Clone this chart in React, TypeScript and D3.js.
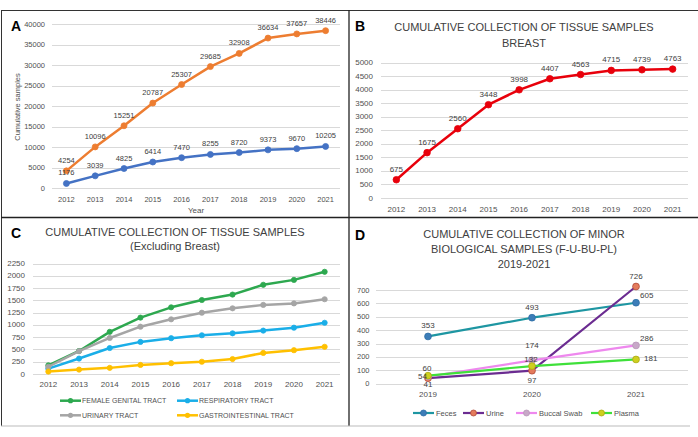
import React from 'react';
import * as d3 from 'd3';

// ---------- DATA ----------
const years = ['2012', '2013', '2014', '2015', '2016', '2017', '2018', '2019', '2020', '2021'];

// Panel A
const cumulativeAll = [4254, 10096, 15251, 20787, 25307, 29685, 32908, 36634, 37657, 38446];
const cumulativeTissue = [1176, 3039, 4825, 6414, 7470, 8255, 8720, 9373, 9670, 10205];
const ticksA = [0, 5000, 10000, 15000, 20000, 25000, 30000, 35000, 40000];

// Panel B
const breast = [675, 1675, 2560, 3448, 3998, 4407, 4563, 4715, 4739, 4763];
const ticksB = [0, 500, 1000, 1500, 2000, 2500, 3000, 3500, 4000, 4500, 5000];

// Panel C
const femaleGenital = [177, 470, 860, 1150, 1360, 1510, 1620, 1820, 1920, 2085];
const respiratory = [110, 315, 530, 655, 730, 790, 830, 885, 945, 1045];
const urinary = [148, 465, 735, 965, 1115, 1250, 1340, 1410, 1440, 1525];
const gastro = [50, 90, 125, 185, 220, 250, 305, 430, 485, 555];
const ticksC = [0, 250, 500, 750, 1000, 1250, 1500, 1750, 2000, 2250];
const seriesNamesC = ['FEMALE GENITAL TRACT', 'RESPIRATORY TRACT', 'URINARY TRACT', 'GASTROINTESTINAL TRACT'];

// Panel D
const minorYears = ['2019', '2020', '2021'];
const feces = [353, 493, 605];
const urine = [41, 97, 726];
const buccal = [54, 174, 286];
const plasma = [60, 132, 181];
const ticksD = [0, 100, 200, 300, 400, 500, 600, 700];
const seriesNamesD = ['Feces', 'Urine', 'Buccal Swab', 'Plasma'];

// ---------- STYLE ----------
const FONT = '"Liberation Sans", Arial, sans-serif';
const GRID = '#D9D9D9';
const TICK = '#505050';
const LABEL = '#404040';

type Place = 'above' | 'aboveHigh' | 'below' | 'right' | 'left' | 'aboveRight' | 'aboveSmall' | 'belowSmall';
const offsets: Record<Place, [number, number, 'start' | 'middle' | 'end']> = {
  above: [0, -10.5, 'middle'],
  aboveHigh: [0, -14.5, 'middle'],
  aboveSmall: [-1, -7, 'middle'],
  below: [0, 10, 'middle'],
  belowSmall: [0, 6, 'middle'],
  right: [8, -1, 'start'],
  left: [-1, 0.5, 'end'],
  aboveRight: [4, -7, 'start'],
};

interface SeriesCfg {
  values: number[];
  line: string;
  marker: string;
  markerStroke?: string;
  width: number;
  r: number;
  labels?: Place[];
  labelSize?: number;
}

interface PanelCfg {
  categories: string[];
  series: SeriesCfg[];
  x0: number;
  x1: number;
  yZero: number;
  yTopPx: number;
  yMax: number;
  ticks: number[];
  tickRight: number;
  tickSize: number;
  xLabelY: number;
  xLabelSize: number;
}

function renderPanel(cfg: PanelCfg, key: string) {
  const x = d3.scalePoint<string>().domain(cfg.categories).range([cfg.x0, cfg.x1]).padding(0.5);
  const y = d3.scaleLinear().domain([0, cfg.yMax]).range([cfg.yZero, cfg.yTopPx]);
  const line = d3
    .line<number>()
    .x((_, i) => x(cfg.categories[i]) as number)
    .y((v) => y(v));
  return (
    <g key={key}>
      {cfg.ticks.map((t) => (
        <g key={t}>
          <line x1={cfg.x0} x2={cfg.x1} y1={Math.round(y(t)) + 0.5} y2={Math.round(y(t)) + 0.5} stroke={GRID} strokeWidth={1} />
          <text x={cfg.tickRight} y={y(t)} dominantBaseline="central" textAnchor="end" fontSize={cfg.tickSize} fill={TICK}>
            {t}
          </text>
        </g>
      ))}
      {cfg.categories.map((c) => (
        <text key={c} x={x(c)} y={cfg.xLabelY} dominantBaseline="central" textAnchor="middle" fontSize={cfg.xLabelSize} fill={TICK}>
          {c}
        </text>
      ))}
      {cfg.series.map((s, si) => (
        <g key={si}>
          <path d={line(s.values) as string} fill="none" stroke={s.line} strokeWidth={s.width} strokeLinejoin="round" strokeLinecap="round" />
          {s.values.map((v, i) => (
            <circle key={i} cx={x(cfg.categories[i])} cy={y(v)} r={s.r} fill={s.marker} stroke={s.markerStroke || s.marker} strokeWidth={0.8} />
          ))}
        </g>
      ))}
      {cfg.series.map((s, si) =>
        s.labels
          ? s.values.map((v, i) => {
              const [dx, dy, anchor] = offsets[s.labels![i]];
              return (
                <text
                  key={`${si}-${i}`}
                  x={(x(cfg.categories[i]) as number) + dx}
                  y={y(v) + dy}
                  dominantBaseline="central"
                  textAnchor={anchor}
                  fontSize={s.labelSize || 8}
                  fill={LABEL}
                >
                  {v}
                </text>
              );
            })
          : null
      )}
    </g>
  );
}

const allAbove: Place[] = years.map(() => 'above');

export default function App() {
  const panelA = renderPanel(
    {
      categories: years,
      series: [
        { values: cumulativeAll, line: '#ED7D31', marker: '#ED7D31', width: 2.5, r: 3, labels: allAbove, labelSize: 7.5 },
        { values: cumulativeTissue, line: '#4472C4', marker: '#4472C4', width: 2.5, r: 3, labels: allAbove, labelSize: 7.5 },
      ],
      x0: 52,
      x1: 340,
      yZero: 188.3,
      yTopPx: 24.3,
      yMax: 40000,
      ticks: ticksA,
      tickRight: 45,
      tickSize: 7.5,
      xLabelY: 199,
      xLabelSize: 7.5,
    },
    'A'
  );
  const panelB = renderPanel(
    {
      categories: years,
      series: [{ values: breast, line: '#E8000B', marker: '#E8000B', width: 2.5, r: 3.3, labels: allAbove, labelSize: 8 }],
      x0: 381,
      x1: 688,
      yZero: 198,
      yTopPx: 62.7,
      yMax: 5000,
      ticks: ticksB,
      tickRight: 373,
      tickSize: 8,
      xLabelY: 209,
      xLabelSize: 8,
    },
    'B'
  );
  const colorsC = ['#2DA84F', '#1AAEE8', '#A5A5A5', '#FFC000'];
  const panelC = renderPanel(
    {
      categories: years,
      series: [femaleGenital, respiratory, urinary, gastro].map((v, i) => ({
        values: v,
        line: colorsC[i],
        marker: colorsC[i],
        width: 2.5,
        r: 2.6,
      })),
      x0: 33,
      x1: 340,
      yZero: 374,
      yTopPx: 263.7,
      yMax: 2250,
      ticks: ticksC,
      tickRight: 25,
      tickSize: 8,
      xLabelY: 384.7,
      xLabelSize: 8,
    },
    'C'
  );
  const linesD = ['#1E96A2', '#6B2C91', '#EE88EE', '#3FE03A'];
  const markersD = ['#3C7DB8', '#E47B5C', '#C8A8C8', '#CFCF1E'];
  const strokesD = ['#2F6EA6', '#B04A3A', '#B898B8', '#A9A910'];
  const labelsD: Place[][] = [
    ['above', 'above', 'aboveRight'],
    ['belowSmall', 'below', 'above'],
    ['left', 'aboveHigh', 'aboveRight'],
    ['aboveSmall', 'aboveSmall', 'right'],
  ];
  const panelD = renderPanel(
    {
      categories: minorYears,
      series: [feces, urine, buccal, plasma].map((v, i) => ({
        values: v,
        line: linesD[i],
        marker: markersD[i],
        markerStroke: strokesD[i],
        width: 2.2,
        r: 3.4,
        labels: labelsD[i],
        labelSize: 8,
      })),
      x0: 376,
      x1: 688,
      yZero: 383.7,
      yTopPx: 290,
      yMax: 700,
      ticks: ticksD,
      tickRight: 369.5,
      tickSize: 7.5,
      xLabelY: 394.7,
      xLabelSize: 8,
    },
    'D'
  );

  const legendC = seriesNamesC.map((name, i) => {
    const col = i % 2;
    const row = Math.floor(i / 2);
    const lx = col === 0 ? 60 : 177;
    const ly = row === 0 ? 400.7 : 415.3;
    return (
      <g key={name}>
        <line x1={lx} x2={lx + 21} y1={ly} y2={ly} stroke={colorsC[i]} strokeWidth={2.5} />
        <circle cx={lx + 10.5} cy={ly} r={2.6} fill={colorsC[i]} />
        <text x={lx + 22} y={ly} dominantBaseline="central" fontSize={7} fill={TICK}>
          {name}
        </text>
      </g>
    );
  });

  const legendXD = [413, 463, 516, 591];
  const legendD = seriesNamesD.map((name, i) => {
    const lx = legendXD[i];
    const ly = 413;
    return (
      <g key={name}>
        <line x1={lx} x2={lx + 21} y1={ly} y2={ly} stroke={linesD[i]} strokeWidth={2.2} />
        <circle cx={lx + 10.5} cy={ly} r={3} fill={markersD[i]} stroke={strokesD[i]} strokeWidth={0.8} />
        <text x={lx + 23} y={ly} dominantBaseline="central" fontSize={7.5} fill={TICK}>
          {name}
        </text>
      </g>
    );
  });

  const titleFill = '#404040';

  return (
    <svg
      width={698}
      height={437}
      style={{ position: 'absolute', left: 0, top: 0, display: 'block', background: '#fff' }}
      fontFamily={FONT}
    >
      <rect x={0} y={0} width={698} height={437} fill="#fff" />
      {/* frame */}
      <line x1={1} x2={698} y1={10.5} y2={10.5} stroke="#333" strokeWidth={1} />
      <line x1={1.5} x2={1.5} y1={10} y2={426} stroke="#333" strokeWidth={1} />
      <line x1={349} x2={349} y1={10} y2={426} stroke="#222" strokeWidth={1.3} />
      <line x1={1} x2={698} y1={217.5} y2={217.5} stroke="#222" strokeWidth={1.3} />
      <line x1={1} x2={690} y1={426} y2={426} stroke="#BBBBBB" strokeWidth={1} />

      {/* Panel A */}
      {panelA}
      <text x={11} y={31} fontSize={14} fontWeight="bold" fill="#000">A</text>
      <text
        transform={`translate(17,${107}) rotate(-90)`}
        textAnchor="middle"
        dominantBaseline="central"
        fontSize={7.5}
        fill={TICK}
      >
        Cumulative samples
      </text>
      <text x={196} y={210.7} textAnchor="middle" dominantBaseline="central" fontSize={8} fill={TICK}>
        Year
      </text>

      {/* Panel B */}
      {panelB}
      <text x={355} y={31} fontSize={14} fontWeight="bold" fill="#000">B</text>
      <text x={524} y={26.7} textAnchor="middle" dominantBaseline="central" fontSize={11} fill={titleFill}>
        CUMULATIVE COLLECTION OF TISSUE SAMPLES
      </text>
      <text x={524} y={42.7} textAnchor="middle" dominantBaseline="central" fontSize={11} fill={titleFill}>
        BREAST
      </text>

      {/* Panel C */}
      {panelC}
      {legendC}
      <text x={11} y={238} fontSize={14} fontWeight="bold" fill="#000">C</text>
      <text x={175} y={232.3} textAnchor="middle" dominantBaseline="central" fontSize={11} fill={titleFill}>
        CUMULATIVE COLLECTION OF TISSUE SAMPLES
      </text>
      <text x={175} y={246.3} textAnchor="middle" dominantBaseline="central" fontSize={11} fill={titleFill}>
        (Excluding Breast)
      </text>

      {/* Panel D */}
      {panelD}
      {legendD}
      <text x={355} y={240} fontSize={14} fontWeight="bold" fill="#000">D</text>
      <text x={524} y={234} textAnchor="middle" dominantBaseline="central" fontSize={11} fill={titleFill}>
        CUMULATIVE COLLECTION OF MINOR
      </text>
      <text x={524} y={249} textAnchor="middle" dominantBaseline="central" fontSize={11} fill={titleFill}>
        BIOLOGICAL SAMPLES (F-U-BU-PL)
      </text>
      <text x={524} y={264} textAnchor="middle" dominantBaseline="central" fontSize={11} fill={titleFill}>
        2019-2021
      </text>
    </svg>
  );
}
